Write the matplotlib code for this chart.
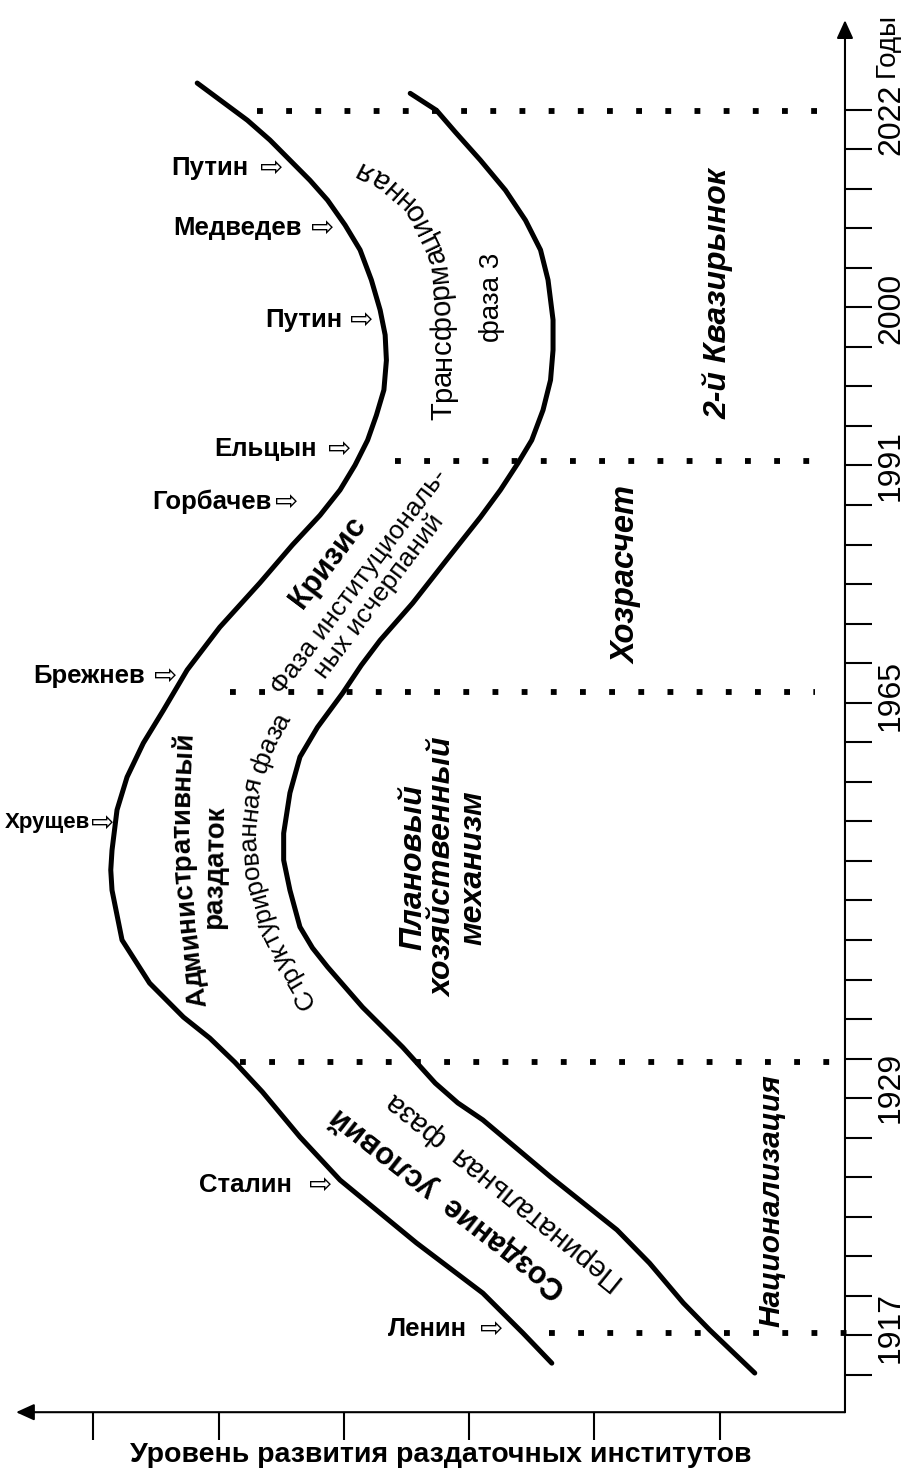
import matplotlib
matplotlib.use("Agg")
import matplotlib.pyplot as plt
import numpy as np
from matplotlib.font_manager import FontProperties

plt.rcParams['font.family'] = ['Liberation Sans', 'DejaVu Sans']

# horizontal: level of development (steps of the bottom axis, 0 = time axis, grows to the left)
# vertical: position on the time axis (steps of its ticks, 0 = lowest tick)
outer_level = [5.17, 4.77, 4.59, 4.43, 4.27, 4.13, 3.99, 3.87, 3.78, 3.71, 3.67, 3.66, 3.68,
               3.74, 3.81, 3.91, 4.03, 4.19, 4.41, 4.67, 4.99, 5.25, 5.44, 5.60, 5.73, 5.81,
               5.85, 5.86, 5.85, 5.77, 5.55, 5.28, 5.07, 4.87, 4.65, 4.35, 4.03, 3.42, 2.89,
               2.57, 2.34]
outer_pos = [32.67, 31.73, 31.23, 30.72, 30.21, 29.71, 29.08, 28.45, 27.69, 26.93, 26.30, 25.66, 24.91,
             24.27, 23.64, 23.01, 22.38, 21.74, 20.99, 20.03, 18.91, 17.83, 16.81, 15.98, 15.12, 14.29,
             13.27, 12.77, 12.26, 11.00, 9.91, 9.05, 8.52, 7.91, 7.16, 6.02, 4.93, 3.34, 2.07,
             1.06, 0.30]

inner_level = [3.47, 3.26, 3.11, 2.91, 2.71, 2.55, 2.43, 2.37, 2.33, 2.33, 2.35, 2.41, 2.50,
               2.61, 2.75, 2.91, 3.18, 3.45, 3.71, 3.86, 4.01, 4.21, 4.35, 4.43, 4.48, 4.48,
               4.43, 4.35, 4.25, 4.13, 3.85, 3.53, 3.27, 3.09, 2.89, 2.35, 1.82, 1.56, 1.29,
               1.08, 0.72]
inner_pos = [32.41, 31.98, 31.43, 30.72, 29.96, 29.20, 28.45, 27.69, 26.68, 25.92, 25.16, 24.40, 23.64,
             23.06, 22.38, 21.69, 20.61, 19.52, 18.58, 17.95, 17.24, 16.38, 15.63, 14.72, 13.70, 13.02,
             12.26, 11.33, 10.80, 10.32, 9.30, 8.29, 7.38, 6.88, 6.45, 5.01, 3.67, 2.83, 1.82,
             1.14, 0.05]

# dotted boundaries between periods
period_pos = [1.06, 7.91, 17.27, 23.11, 31.96]
period_from = [2.36, 4.83, 4.91, 3.59, 4.69]
period_to = [-0.02, 0.10, 0.24, 0.24, 0.20]

year_labels = ['1917', '1929', '1965', '1991', '2000', '2022']
year_label_pos = [1.19, 7.26, 17.19, 23.0, 26.97, 31.76]
n_year_ticks = 33
level_ticks = [1, 2, 3, 4, 5, 6]

leaders = ['Ленин', 'Сталин', 'Хрущев', 'Брежнев', 'Горбачев', 'Ельцын', 'Путин', 'Медведев', 'Путин']
leader_pos = [1.16, 4.80, 13.96, 17.67, 22.07, 23.41, 26.68, 29.0, 30.52]
leader_name_level = [3.017, 4.413, 6.026, 5.587, 4.573, 4.214, 4.014, 4.334, 4.765]
leader_arrow_level = [2.817, 4.182, 5.922, 5.419, 4.453, 4.030, 3.855, 4.166, 4.573]
leader_size = [18.5, 18.5, 16, 18.5, 18.5, 18.5, 18.5, 18.5, 18.5]

fig = plt.figure(figsize=(9.06, 14.78), dpi=100)
ax = fig.add_axes([0, 0, 1, 1])
ax.set_xlim(6.744, -0.487)
ax.set_ylim(-2.604, 34.77)
ax.axis('off')

# curves
ax.plot(outer_level, outer_pos, color='black', lw=3.6, solid_capstyle='round', solid_joinstyle='round')
ax.plot(inner_level, inner_pos, color='black', lw=3.6, solid_capstyle='round', solid_joinstyle='round')

# dotted period lines
for p, a, b in zip(period_pos, period_from, period_to):
    ax.plot([a, b], [p, p], color='black', lw=4.2, linestyle=(0, (1, 4)), dash_capstyle='butt')

# axes
axis_pos = -0.94
ax.annotate('', xy=(0, 34.26), xytext=(0, axis_pos),
            arrowprops=dict(arrowstyle='-|>,head_length=0.55,head_width=0.25', mutation_scale=20,
                            color='black', lw=1.5, shrinkA=0, shrinkB=0))
ax.annotate('', xy=(6.616, axis_pos), xytext=(0, axis_pos),
            arrowprops=dict(arrowstyle='-|>,head_length=0.55,head_width=0.25', mutation_scale=20,
                            color='black', lw=1.5, shrinkA=0, shrinkB=0))
ax.hlines(np.arange(n_year_ticks), 0, -0.215, color='black', lw=1.5)
ax.vlines(level_ticks, axis_pos, -1.64, color='black', lw=1.5)

for lab, p in zip(year_labels, year_label_pos):
    ax.text(-0.367, p, lab, rotation=90, ha='center', va='center', fontsize=23)
ax.text(-0.33, 33.63, 'Годы', rotation=90, ha='center', va='center', fontsize=20)
ax.text(3.224, -2.02, 'Уровень развития раздаточных институтов', ha='center', va='center',
        fontsize=20.5, fontweight='bold')

# leaders
for name, p, ln, la, fs in zip(leaders, leader_pos, leader_name_level, leader_arrow_level, leader_size):
    ax.text(ln, p, name, ha='right', va='center', fontsize=fs, fontweight='bold')
    ax.text(la, p, '⇨', ha='center', va='center', fontsize=20, family=['DejaVu Sans'])


def curved_text(s, path_level, path_pos, size, weight='normal', style='normal', align='center'):
    r = fig.canvas.get_renderer()
    prop = FontProperties(family=['Liberation Sans', 'DejaVu Sans'], size=size, weight=weight, style=style)
    pts = ax.transData.transform(np.column_stack([path_level, path_pos]))
    seg = np.diff(pts, axis=0)
    seglen = np.hypot(seg[:, 0], seg[:, 1])
    cum = np.concatenate([[0], np.cumsum(seglen)])
    ww = r.get_text_width_height_descent('n n', prop, ismath=False)[0] - \
        r.get_text_width_height_descent('nn', prop, ismath=False)[0]
    widths = [ww if c == ' ' else r.get_text_width_height_descent(c, prop, ismath=False)[0] for c in s]
    total = sum(widths)
    pos = (cum[-1] - total) / 2 if align == 'center' else 0.0

    def at(d):
        d = min(max(d, 0), cum[-1] - 1e-6)
        i = min(np.searchsorted(cum, d, side='right') - 1, len(seg) - 1)
        t = (d - cum[i]) / seglen[i]
        return pts[i] + t * seg[i]

    for c, w in zip(s, widths):
        mid = pos + w / 2
        p = at(mid)
        d = at(mid + max(w, 6) / 2) - at(mid - max(w, 6) / 2)
        ang = np.degrees(np.arctan2(d[1], d[0]))
        xy = ax.transData.inverted().transform(p)
        if c != ' ':
            ax.text(xy[0], xy[1], c, rotation=ang, rotation_mode='anchor', ha='center', va='center',
                    fontproperties=prop)
        pos += w


curved_text('Трансформационная', [3.208, 3.208, 3.256, 3.448, 3.687, 3.951],
            [24.15, 26.75, 28.27, 29.53, 30.21, 30.64], 21, align='start')
curved_text('Структурированная фаза', [4.230, 4.445, 4.621, 4.733, 4.765, 4.717, 4.605, 4.429],
            [9.10, 10.24, 11.38, 12.64, 13.78, 14.92, 15.93, 16.94], 19)
curved_text('Административный', [5.164, 5.243, 5.283, 5.291, 5.267],
            [9.48, 11.25, 12.77, 14.54, 16.06], 20, weight='bold')
ax.text(5.028, 12.84, 'раздаток', rotation=89, ha='center', va='center', fontsize=20, fontweight='bold')
ax.text(2.817, 27.26, 'фаза 3', rotation=90, ha='center', va='center', fontsize=20)

ax.text(4.126, 20.56, 'Кризис', rotation=53, ha='center', va='center', fontsize=22, fontweight='bold')
ax.text(3.799, 19.87, 'Фаза институциональ-\nных исчерпаний', rotation=53, ha='center', va='center',
        multialignment='center', fontsize=19, linespacing=1.0, rotation_mode='anchor')
ax.text(3.168, 4.35, 'Создание  условий', rotation=142, ha='center', va='center', fontsize=22,
        fontweight='bold', rotation_mode='anchor')
ax.text(2.713, 4.63, 'Перинатальная  фаза', rotation=141, ha='center', va='center', fontsize=21,
        rotation_mode='anchor')

bi = dict(fontweight='bold', fontstyle='italic', ha='center', va='center', rotation=90)
ax.text(3.208, 12.84, 'Плановый\nхозяйственный\nмеханизм', multialignment='center', linespacing=1.0,
        fontsize=23, **bi)
ax.text(1.740, 20.23, 'Хозрасчет', fontsize=23.5, **bi)
ax.text(1.014, 27.36, '2-й Квазирынок', fontsize=23, **bi)
ax.text(0.583, 4.42, 'Национализация', fontsize=21.5, **bi)

fig.savefig('out.png', dpi=100)
